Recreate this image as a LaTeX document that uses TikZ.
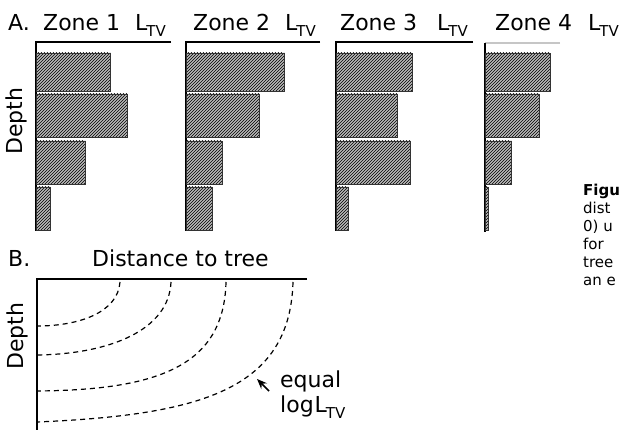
\documentclass[tikz,border=0pt]{standalone}
\usepackage{fontspec}
\setmainfont{DejaVu Sans}
\usetikzlibrary{patterns,arrows.meta}

\newcommand{\ltv}{L\kern-1pt\raisebox{-6pt}{\fontsize{15}{15}\selectfont TV}}

\begin{document}
\begin{tikzpicture}[x=1pt,y=-1pt,
	lbl/.style={font=\fontsize{22}{26}\selectfont, inner sep=0pt, anchor=base west},
	capt/.style={font=\fontsize{15}{18}\selectfont, inner sep=0pt, anchor=base west},
	bar/.style={preaction={fill=gray!55}, pattern=north east lines, draw=black!80, line width=0.8pt},
	axis/.style={line width=1.2pt},
	contour/.style={dash pattern=on 5pt off 4pt, line width=1.2pt}]

	\useasboundingbox (0,0) rectangle (621,430);

	% panel A
	\coordinate (O1) at (36,42);
	\coordinate (O2) at (186,42);
	\coordinate (O3) at (336,42);
	\coordinate (O4) at (485,43);

	\draw[axis] (171,42) -- (O1) -- (36,231);
	\draw[axis] (320,42) -- (O2) -- (186,231);
	\draw[axis] (473,42) -- (O3) -- (336,231);
	\draw[axis, gray!45] (560,43) -- (O4);
	\draw[axis] (O4) -- (485,232);

	\draw[bar] (36,53) rectangle (110,91);
	\draw[bar] (36,94) rectangle (127,137);
	\draw[bar] (36,141) rectangle (85,184);
	\draw[bar] (36,187) rectangle (50,230);

	\draw[bar] (186,53) rectangle (284,91);
	\draw[bar] (186,94) rectangle (259,137);
	\draw[bar] (186,141) rectangle (222,184);
	\draw[bar] (186,187) rectangle (212,230);

	\draw[bar] (336,53) rectangle (412,91);
	\draw[bar] (336,94) rectangle (397,137);
	\draw[bar] (336,141) rectangle (410,184);
	\draw[bar] (336,187) rectangle (348,230);

	\draw[bar] (485,53) rectangle (550,91);
	\draw[bar] (485,94) rectangle (539,137);
	\draw[bar] (485,141) rectangle (511,184);
	\draw[bar] (485,187) rectangle (488,230);

	\node[lbl] (A) at (8,31) {A.};
	\node[lbl] (z1) at (43,31) {Zone 1};
	\node[lbl] (l1) at (135,31) {\ltv};
	\node[lbl] (z2) at (193,31) {Zone 2};
	\node[lbl] (l2) at (285,31) {\ltv};
	\node[lbl] (z3) at (340,31) {Zone 3};
	\node[lbl] (l3) at (437,31) {\ltv};
	\node[lbl] (z4) at (495,31) {Zone 4};
	\node[lbl] (l4) at (588,31) {\ltv};
	\node[lbl, anchor=center, rotate=90] (dA) at (16,121) {Depth};

	% panel B
	\coordinate (OB) at (37,279);
	\draw[axis] (307,279) -- (OB) -- (37,430);

	\draw[contour] (120,282) .. controls (118,312) and (80,326) .. (37,326);
	\draw[contour] (171,282) .. controls (169,330) and (110,354) .. (37,355);
	\draw[contour] (226,282) .. controls (224,365) and (160,390) .. (37,391);
	\draw[contour] (293,282) .. controls (290,390) and (200,415) .. (37,422);

	\node[lbl] (B) at (8,267) {B.};
	\node[lbl] (dist) at (92,267) {Distance to tree};
	\node[lbl, anchor=center, rotate=90] (dB) at (17,336) {Depth};
	\node[lbl] (eq) at (280,387) {equal};
	\node[lbl] (lg) at (280,412) {log\kern1pt\ltv};
	\coordinate (tail) at (269,391);
	\coordinate (tip) at (257,379);
	\draw[-{Stealth[length=10pt,width=8pt]}, line width=1.6pt] (tail) -- (tip);

	% caption, as far as it shows
	\node[capt, font=\fontsize{15}{18}\selectfont\bfseries] (c1) at (583,196) {Figu};
	\node[capt] (c2) at (583,214) {dist};
	\node[capt] (c3) at (583,232) {0) u};
	\node[capt] (c4) at (583,250) {for};
	\node[capt] (c5) at (583,268) {tree};
	\node[capt] (c6) at (583,286) {an e};
\end{tikzpicture}
\end{document}
